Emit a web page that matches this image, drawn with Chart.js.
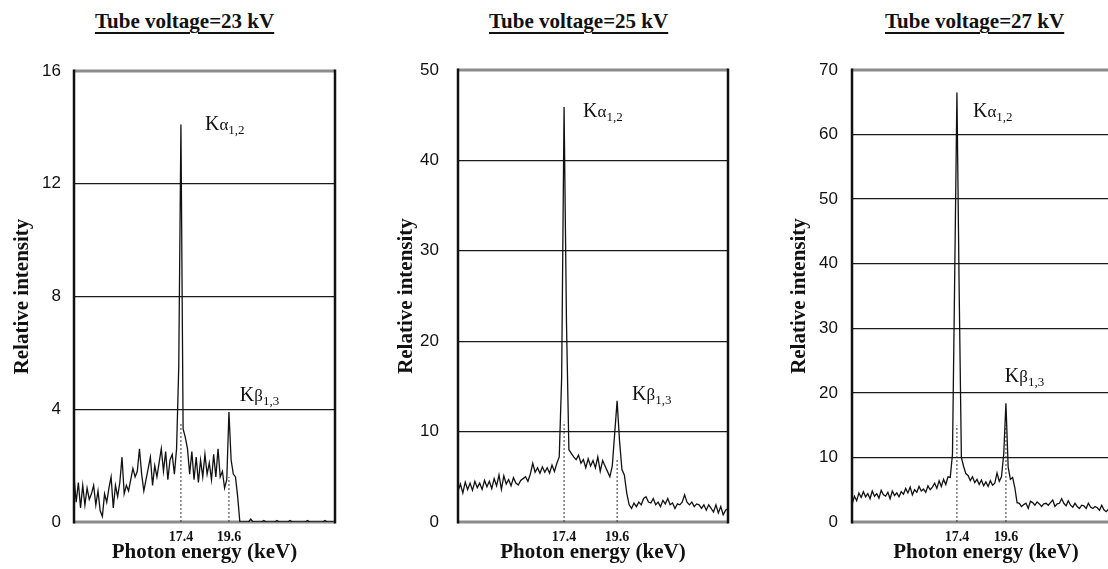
<!DOCTYPE html>
<html>
<head>
<meta charset="utf-8">
<title>Mo target spectra</title>
<script src="https://cdn.jsdelivr.net/npm/chart.js@4.4.1/dist/chart.umd.min.js"></script>
<style>
  html, body { margin: 0; padding: 0; background: #fff; overflow: hidden; }
  body { width: 1108px; height: 569px; position: relative; }
  canvas { position: absolute; top: 0; }
  .title {
    position: absolute;
    top: 9px;
    font: bold 21px 'Liberation Serif', 'Times New Roman', serif;
    color: #111;
    white-space: nowrap;
    text-decoration: underline;
    text-decoration-thickness: 1.5px;
    text-underline-offset: 4px;
  }
</style>
</head>
<body>
<div class="title" style="left:95px">Tube voltage=23 kV</div>
<div class="title" style="left:489px">Tube voltage=25 kV</div>
<div class="title" style="left:885px">Tube voltage=27 kV</div>

<canvas id="chart23" width="345" height="569" style="left:0px"></canvas>
<canvas id="chart25" width="360" height="569" style="left:380px"></canvas>
<canvas id="chart27" width="370" height="569" style="left:760px"></canvas>

<script>
// energy calibration of the channels (keV)
const ENERGY_STEP = 0.1;
const start23 = 12.5;
const start25 = 13.0;
const start27 = 12.7;

// tick labels on the energy axis
const energyTicks = [17.4, 19.6];

// relative intensity per channel
const intensity23 = [
  1.6, 0.7, 1.4, 0.5, 1.3, 0.6, 1.2, 0.8, 1.0, 1.3,
  0.6, 1.1, 0.4, 0.2, 1.0, 0.7, 1.2, 1.6, 0.5, 1.3,
  0.9, 1.4, 2.3, 1.0, 1.3, 1.1, 1.5, 1.9, 1.6, 1.8,
  2.6, 1.7, 1.1, 1.5, 1.9, 2.3, 1.3, 2.0, 1.6, 2.1,
  2.6, 1.8, 2.5, 1.5, 2.2, 2.4, 1.7, 2.6, 5.5, 14.1,
  3.3, 3.0, 2.6, 1.7, 2.5, 1.5, 2.3, 1.4, 2.2, 1.6,
  2.4, 1.7, 2.1, 1.5, 2.4, 1.6, 2.6, 1.6, 1.8, 1.2,
  1.5, 3.9, 2.2, 1.7, 1.6, 0.9, 0, 0, 0, 0,
  0, 0.1, 0, 0, 0, 0, 0, 0.05, 0, 0,
  0, 0, 0, 0.05, 0, 0, 0, 0, 0, 0.05,
  0, 0, 0, 0, 0, 0, 0, 0.05, 0, 0,
  0, 0, 0, 0, 0, 0.05, 0, 0, 0, 0
];

const intensity25 = [
  3.4, 4.2, 3.2, 4.4, 3.6, 4.3, 3.5, 4.5, 3.8, 4.3,
  3.6, 4.6, 3.9, 4.5, 3.7, 4.8, 4.0, 5.2, 3.6, 5.1,
  4.2, 4.7, 4.0, 4.9, 4.3, 4.1, 4.6, 4.8, 5.0, 4.5,
  5.3, 6.5, 5.5, 6.0, 5.4, 6.1, 5.5, 6.0, 5.4, 6.3,
  5.6, 6.5, 7.2, 16.0, 45.9, 22.0, 8.0, 7.6, 7.2, 6.9,
  7.4, 6.5, 6.9, 6.0, 7.0, 6.2, 6.8, 6.0, 7.2, 5.6,
  6.8, 6.2, 5.6, 5.0, 6.2, 9.8, 13.4, 9.0, 5.8, 5.2,
  3.2, 1.9, 1.5, 2.1, 1.7, 2.2, 1.9, 2.6, 2.8, 2.2,
  2.1, 2.6, 1.9, 2.2, 1.7, 2.4, 2.0, 2.6, 1.9, 2.1,
  1.5, 2.0, 1.9, 2.2, 3.0, 2.2, 1.9, 2.2, 1.7, 2.0,
  1.9, 1.5, 1.9, 1.3, 1.9, 1.5, 1.1, 1.9, 1.0, 1.7,
  0.8, 1.3, 1.5
];

const intensity27 = [
  2.8, 4.0, 3.3, 4.5, 3.8, 4.7, 3.9, 4.4, 3.6, 4.8,
  4.0, 4.4, 3.7, 4.9, 4.2, 4.0, 4.6, 3.6, 4.8, 4.1,
  4.5, 3.9, 4.7, 4.3, 5.2, 4.5, 5.4, 4.2, 5.0, 4.6,
  5.5, 4.8, 5.1, 4.6, 5.6, 5.0, 5.4, 6.0, 5.2, 6.4,
  5.5, 6.6, 5.8, 7.0, 6.9, 10.5, 38.0, 66.5, 36.0, 10.0,
  8.6, 7.5, 7.2, 6.4, 7.0, 6.1, 6.6, 5.8, 6.5, 5.6,
  6.2, 5.5, 6.4, 5.7, 6.0, 7.6, 6.3, 7.0, 10.5, 18.4,
  8.5, 6.6, 6.9, 5.3, 3.0, 2.9, 2.4, 2.7, 2.9, 2.1,
  3.2, 3.0, 2.6, 3.1, 2.8, 2.4, 2.8, 2.9, 2.6, 3.0,
  3.4, 2.4, 2.8, 2.9, 3.6, 2.9, 2.5, 3.3, 2.6, 2.3,
  2.9, 2.4, 2.1, 2.6, 2.5, 2.1, 2.9, 2.3, 2.1, 2.4,
  2.2, 1.8, 2.6, 1.9, 1.6, 2.0, 1.7
];

// heights of the dotted drop lines at 17.4 and 19.6 keV
const drop23 = [3.5, 1.6];
const drop25 = [11.1, 6.9];
const drop27 = [15, 15];

const serif = "'Liberation Serif', 'Times New Roman', serif";

// plot frame: dark sides, grey top and bottom
const framePlugin = {
  id: 'frame',
  beforeDatasetsDraw(chart) {
    const { ctx, chartArea: a } = chart;
    ctx.save();
    ctx.strokeStyle = '#8c8c8c';
    ctx.lineWidth = 3;
    ctx.beginPath();
    ctx.moveTo(a.left, a.top); ctx.lineTo(a.right, a.top);
    ctx.moveTo(a.left, a.bottom); ctx.lineTo(a.right, a.bottom);
    ctx.stroke();
    ctx.strokeStyle = '#111';
    ctx.lineWidth = 2.5;
    ctx.beginPath();
    ctx.moveTo(a.left, a.top - 1.5); ctx.lineTo(a.left, a.bottom + 1.5);
    ctx.moveTo(a.right, a.top - 1.5); ctx.lineTo(a.right, a.bottom + 1.5);
    ctx.stroke();
    ctx.restore();
  }
};

// K alpha / K beta line names, anchored in data coordinates
const peakLabelPlugin = {
  id: 'peakLabels',
  afterDraw(chart, args, opts) {
    const { ctx, scales } = chart;
    ctx.save();
    ctx.fillStyle = '#111';
    ctx.textBaseline = 'alphabetic';
    ctx.textAlign = 'left';
    (opts.items || []).forEach(item => {
      let px = scales.x.getPixelForValue(item.at[0]);
      const py = scales.y.getPixelForValue(item.at[1]);
      ctx.font = '20px ' + serif;
      ctx.fillText('K', px, py);
      px += ctx.measureText('K').width;
      ctx.font = '17px ' + serif;
      ctx.fillText(item.greek, px, py);
      px += ctx.measureText(item.greek).width;
      ctx.font = '13px ' + serif;
      ctx.fillText(item.sub, px, py + 4);
    });
    ctx.restore();
  }
};

function toPoints(start, values) {
  return values.map((v, i) => ({ x: Math.round((start + i * ENERGY_STEP) * 100) / 100, y: v }));
}

function createSpectrumChart(id, cfg) {
  const datasets = [{
    data: toPoints(cfg.start, cfg.values),
    showLine: true,
    borderColor: '#111',
    borderWidth: 1.3,
    pointRadius: 0,
    tension: 0
  }];

  energyTicks.forEach((e, k) => {
    datasets.push({
      data: [{ x: e, y: 0 }, { x: e, y: cfg.drops[k] }],
      showLine: true,
      borderColor: '#333',
      borderWidth: 1,
      borderDash: [2, 2],
      pointRadius: 0
    });
  });

  new Chart(document.getElementById(id), {
    type: 'scatter',
    data: { datasets },
    plugins: [framePlugin, peakLabelPlugin],
    options: {
      responsive: false,
      animation: false,
      layout: { padding: { top: cfg.top, right: cfg.right, bottom: 0, left: 0 } },
      plugins: {
        legend: { display: false },
        tooltip: { enabled: false },
        peakLabels: { items: cfg.labels }
      },
      scales: {
        x: {
          type: 'linear',
          min: cfg.xMin,
          max: cfg.xMax,
          grid: { display: false, drawTicks: false },
          border: { display: false },
          afterBuildTicks: scale => { scale.ticks = energyTicks.map(v => ({ value: v })); },
          afterFit: scale => { scale.height = 47; },
          ticks: {
            autoSkip: false,
            maxRotation: 0,
            padding: 7,
            color: '#111',
            font: { family: serif, size: 14, weight: 'bold' },
            callback: v => v.toFixed(1)
          },
          title: {
            display: true,
            text: 'Photon energy (keV)',
            color: '#111',
            font: { family: serif, size: 21, weight: 'bold' },
            padding: { top: 0, bottom: 4 }
          }
        },
        y: {
          min: 0,
          max: cfg.yMax,
          grid: {
            drawTicks: false,
            lineWidth: 1.3,
            color: c => (c.tick.value === 0 || c.tick.value === cfg.yMax) ? 'rgba(0,0,0,0)' : '#1a1a1a'
          },
          border: { display: false },
          afterFit: scale => { scale.width = cfg.yWidth; },
          ticks: {
            stepSize: cfg.yStep,
            padding: cfg.tickPad,
            color: '#111',
            font: { family: "'Liberation Sans', Arial, sans-serif", size: 17 }
          },
          title: {
            display: true,
            text: 'Relative intensity',
            color: '#111',
            font: { family: serif, size: 21, weight: 'bold' },
            padding: { top: cfg.titlePad, bottom: 0 }
          }
        }
      }
    }
  });
}

createSpectrumChart('chart23', {
  start: start23, values: intensity23, drops: drop23,
  xMin: 12.5, xMax: 24.46, yMax: 16, yStep: 4,
  top: 71, right: 10, yWidth: 74, tickPad: 13, titlePad: 10,
  labels: [
    { greek: 'α', sub: '1,2', at: [18.5, 13.9] },
    { greek: 'β', sub: '1,3', at: [20.1, 4.3] }
  ]
});

createSpectrumChart('chart25', {
  start: start25, values: intensity25, drops: drop25,
  xMin: 13.0, xMax: 24.2, yMax: 50, yStep: 10,
  top: 70, right: 12, yWidth: 78, tickPad: 19, titlePad: 14,
  labels: [
    { greek: 'α', sub: '1,2', at: [18.19, 44.8] },
    { greek: 'β', sub: '1,3', at: [20.22, 13.5] }
  ]
});

createSpectrumChart('chart27', {
  start: start27, values: intensity27, drops: drop27,
  xMin: 12.69, xMax: 24.72, yMax: 70, yStep: 10,
  top: 70, right: 10, yWidth: 92, tickPad: 14, titlePad: 27,
  labels: [
    { greek: 'α', sub: '1,2', at: [18.12, 62.7] },
    { greek: 'β', sub: '1,3', at: [19.55, 21.7] }
  ]
});
</script>
</body>
</html>
